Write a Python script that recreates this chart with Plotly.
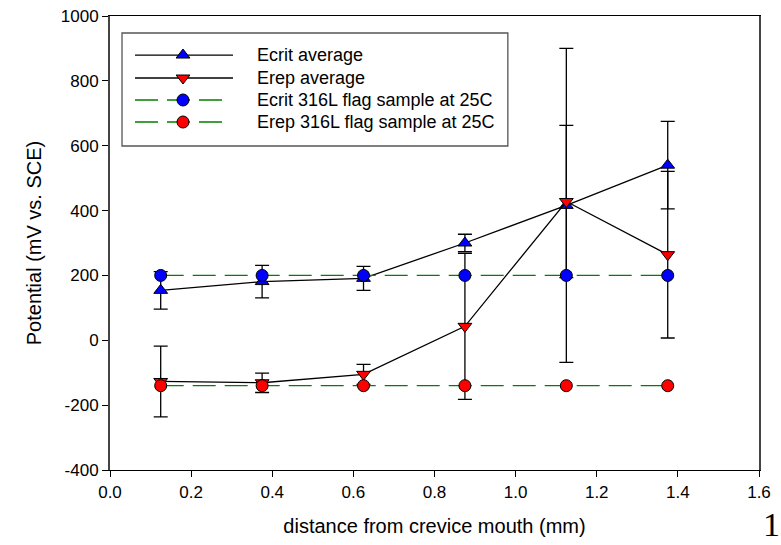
import plotly.graph_objects as go

# ---- data ----
distance = [0.125, 0.375, 0.625, 0.875, 1.125, 1.375]
ecrit_avg = [154, 181, 191, 300, 416, 540]
ecrit_err = [58, 50, 37, 27, 484, 135]
erep_avg = [-127, -131, -105, 43, 428, 264]
erep_err = [109, 30, 31, 225, 235, 257]
ecrit_flag = [200, 200, 200, 200, 200, 200]
erep_flag = [-140, -140, -140, -140, -140, -140]

legend_names = ["Ecrit average", "Erep average",
                "Ecrit 316L flag sample at 25C", "Erep 316L flag sample at 25C"]
x_ticks = [0.0, 0.2, 0.4, 0.6, 0.8, 1.0, 1.2, 1.4, 1.6]
x_tick_labels = ["0.0", "0.2", "0.4", "0.6", "0.8", "1.0", "1.2", "1.4", "1.6"]
y_ticks = [-400, -200, 0, 200, 400, 600, 800, 1000]
y_tick_labels = ["-400", "-200", "0", "200", "400", "600", "800", "1000"]

GREEN = "#008000"
FONT = "Liberation Sans, Arial, sans-serif"
DASH = "23px,9px"

fig = go.Figure()

err_style = dict(type="data", color="black", thickness=1.3, width=7)

fig.add_trace(go.Scatter(
    x=distance, y=ecrit_avg, mode="lines+markers", name=legend_names[0],
    line=dict(color="black", width=1.3),
    marker=dict(symbol="triangle-up", size=12, color="#0000ff",
                line=dict(color="black", width=1)),
    error_y=dict(array=ecrit_err, **err_style), showlegend=False))
fig.add_trace(go.Scatter(
    x=distance, y=erep_avg, mode="lines+markers", name=legend_names[1],
    line=dict(color="black", width=1.3),
    marker=dict(symbol="triangle-down", size=12, color="#ff0000",
                line=dict(color="black", width=1)),
    error_y=dict(array=erep_err, **err_style), showlegend=False))
fig.add_trace(go.Scatter(
    x=distance, y=ecrit_flag, mode="lines+markers", name=legend_names[2],
    line=dict(color=GREEN, width=1.3, dash=DASH),
    marker=dict(symbol="circle", size=12, color="#0000ff",
                line=dict(color="black", width=1)), showlegend=False))
fig.add_trace(go.Scatter(
    x=distance, y=erep_flag, mode="lines+markers", name=legend_names[3],
    line=dict(color=GREEN, width=1.3, dash=DASH),
    marker=dict(symbol="circle", size=12, color="#ff0000",
                line=dict(color="black", width=1)), showlegend=False))

# ---- manual legend on an overlay axis (0..1) ----
leg_y = [0.914, 0.8634, 0.815, 0.7665]
leg_styles = [
    dict(line=dict(color="black", width=1.3), sym="triangle-up", col="#0000ff", x1=0.1895),
    dict(line=dict(color="black", width=1.3), sym="triangle-down", col="#ff0000", x1=0.1895),
    dict(line=dict(color=GREEN, width=1.3, dash=DASH), sym="circle", col="#0000ff", x1=0.1741),
    dict(line=dict(color=GREEN, width=1.3, dash=DASH), sym="circle", col="#ff0000", x1=0.1741),
]
lx0, lxm = 0.0385, 0.1125
for yv, st, nm in zip(leg_y, leg_styles, legend_names):
    fig.add_trace(go.Scatter(
        x=[lx0, st["x1"]], y=[yv, yv], mode="lines", line=st["line"],
        xaxis="x2", yaxis="y2", showlegend=False, hoverinfo="skip"))
    fig.add_trace(go.Scatter(
        x=[lxm], y=[yv], mode="markers",
        marker=dict(symbol=st["sym"], size=12, color=st["col"],
                    line=dict(color="black", width=1)),
        xaxis="x2", yaxis="y2", showlegend=False, hoverinfo="skip"))
    fig.add_annotation(x=0.2235, y=yv, xref="x2", yref="y2", text=nm,
                       showarrow=False, xanchor="left", yanchor="middle",
                       font=dict(family=FONT, size=18, color="black"))

fig.add_shape(type="rect", xref="x2", yref="y2", x0=0.0185, x1=0.613,
              y0=0.7137, y1=0.9626, line=dict(color="#555555", width=1.3),
              fillcolor="rgba(0,0,0,0)", layer="below")

fig.add_annotation(x=1.003, y=-0.12, xref="paper", yref="paper", text="1",
                   showarrow=False, xanchor="left", yanchor="middle",
                   font=dict(family="Liberation Serif, serif", size=34, color="black"))

fig.update_layout(
    width=781, height=545,
    margin=dict(l=110, r=22, t=16, b=75, autoexpand=False),
    paper_bgcolor="white", plot_bgcolor="white",
    font=dict(family=FONT, size=17, color="black"),
    xaxis=dict(range=[0, 1.6], tickvals=x_ticks, ticktext=x_tick_labels,
               ticks="outside", ticklen=6, tickwidth=1.2, tickcolor="black",
               showline=True, linecolor="black", linewidth=1.3, mirror=True,
               showgrid=False, zeroline=False,
               title=dict(text="distance from crevice mouth (mm)",
                          font=dict(size=20), standoff=18),
               tickfont=dict(size=17)),
    yaxis=dict(range=[-400, 1000], tickvals=y_ticks, ticktext=y_tick_labels,
               ticks="outside", ticklen=6, tickwidth=1.2, tickcolor="black",
               showline=True, linecolor="#444444", linewidth=2, mirror=True,
               showgrid=False, zeroline=False,
               title=dict(text="Potential (mV vs. SCE)",
                          font=dict(size=20), standoff=14),
               tickfont=dict(size=17)),
    xaxis2=dict(range=[0, 1], overlaying="x", visible=False, fixedrange=True),
    yaxis2=dict(range=[0, 1], overlaying="y", visible=False, fixedrange=True),
    showlegend=False,
)

fig.write_html("out.html", config={"displayModeBar": False},
               post_script="document.body.style.margin='0px';document.body.style.overflow='hidden';")
